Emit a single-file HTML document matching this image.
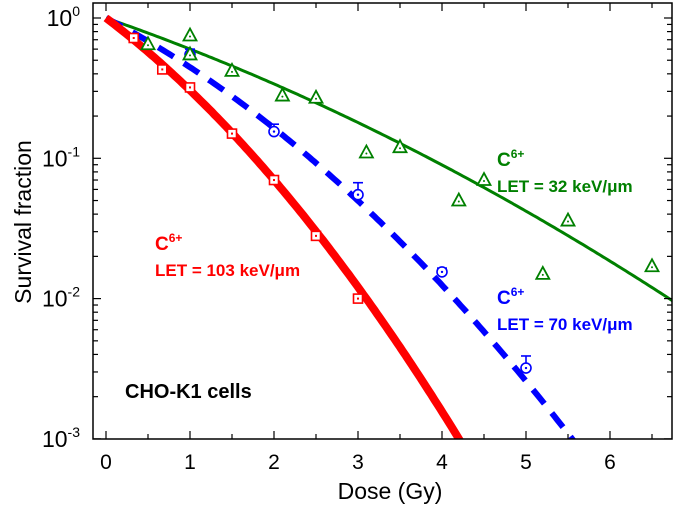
<!DOCTYPE html>
<html><head><meta charset="utf-8">
<style>
html,body{margin:0;padding:0;background:#fff;width:675px;height:511px;overflow:hidden;}
svg{display:block;font-family:"Liberation Sans",Arial,sans-serif;}
</style></head>
<body>
<svg id="chart" width="675" height="511" viewBox="0 0 675 511" xmlns="http://www.w3.org/2000/svg"></svg>
<script>
const xTicks=[0,1,2,3,4,5,6];
const yDecades=[0,-1,-2,-3];
const redDose=[0.33,0.67,1,1.5,2,2.5,3];
const redSurv=[0.72,0.43,0.32,0.15,0.07,0.028,0.01];
const blueDose=[1,2,3,4,5];
const blueSurv=[0.55,0.155,0.055,0.0155,0.0032];
const blueErr=[0.05,0.02,0.012,0.001,0.0007];
const greenDose=[0.5,1,1,1.5,2.1,2.5,3.1,3.5,4.2,4.5,5.2,5.5,6.5];
const greenSurv=[0.65,0.75,0.55,0.42,0.28,0.27,0.11,0.12,0.05,0.07,0.015,0.036,0.017];
const redFit=[1.043,0.143];
const blueFit=[0.712,0.096];
const greenFit=[0.479,0.031];

const X0=106,XS=84,Y0=18,YS=140.3,L=93,R=672,T=3,B=439;
const sx=d=>X0+d*XS;
const sy=v=>Y0-Math.log10(v)*YS;
const svg=document.getElementById('chart');
const NS='http://www.w3.org/2000/svg';
function mk(tag,at,parent){const e=document.createElementNS(NS,tag);for(const k in at)e.setAttribute(k,at[k]);(parent||svg).appendChild(e);return e;}

const defs=mk('defs',{});
const cp=mk('clipPath',{id:'pc'},defs);
mk('rect',{x:L,y:T,width:R-L,height:B-T},cp);

function curve(fit,color,width,dash,name){
  let d='';
  for(let i=0;i<=200;i++){const D=i*6.8/200;const s=Math.exp(-fit[0]*D-fit[1]*D*D);d+=(i?'L':'M')+sx(D).toFixed(1)+','+sy(s).toFixed(1);}
  const p=mk('path',{d:d,fill:'none',stroke:color,'stroke-width':width,'clip-path':'url(#pc)'});
  if(dash)p.setAttribute('stroke-dasharray',dash);
  
  
}
curve(greenFit,'#008000',3,null,'fit-let32');
curve(blueFit,'#0000ff',6,'18,12','fit-let70');
curve(redFit,'#ff0000',8,null,'fit-let103');

redDose.forEach((d,i)=>{
  const x=sx(d),y=sy(redSurv[i]);
  const g=mk('g',{});
  
  
  mk('rect',{x:x-4.5,y:y-4.5,width:9,height:9,fill:'#fff',stroke:'#ff0000','stroke-width':1.6},g);
  mk('rect',{x:x-1,y:y-1,width:2,height:2,fill:'#ff0000'},g);
});
blueDose.forEach((d,i)=>{
  const x=sx(d),y=sy(blueSurv[i]),yt=sy(blueSurv[i]+blueErr[i]);
  const g=mk('g',{});
  
  
  mk('line',{x1:x,y1:y,x2:x,y2:yt,stroke:'#0000ff','stroke-width':1.6},g);
  mk('line',{x1:x-5,y1:yt,x2:x+5,y2:yt,stroke:'#0000ff','stroke-width':1.6},g);
  mk('circle',{cx:x,cy:y,r:5,fill:'#fff',stroke:'#0000ff','stroke-width':1.6},g);
  mk('circle',{cx:x,cy:y,r:1.2,fill:'#0000ff'},g);
});
greenDose.forEach((d,i)=>{
  const x=sx(d),y=sy(greenSurv[i]);
  const g=mk('g',{});
  
  
  mk('polygon',{points:`${x},${y-7} ${x-6.5},${y+5} ${x+6.5},${y+5}`,fill:'#fff',stroke:'#008000','stroke-width':1.8},g);
  mk('circle',{cx:x,cy:y+1,r:1,fill:'#008000'},g);
});

const fr=mk('rect',{x:L,y:T,width:R-L,height:B-T,fill:'none',stroke:'#000','stroke-width':1.5});



for(let v=0;v<=6.5;v+=0.5){
  const x=sx(v),len=(v%1===0)?8:5;
  mk('line',{x1:x,y1:B,x2:x,y2:B-len,stroke:'#000','stroke-width':1.2});
  mk('line',{x1:x,y1:T,x2:x,y2:T+len,stroke:'#000','stroke-width':1.2});
}
xTicks.forEach(v=>{
  const t=mk('text',{x:sx(v),y:469,'font-size':21,'text-anchor':'middle',fill:'#000'});
  t.textContent=v;
  
  
});
yDecades.forEach(e=>{
  const y=sy(Math.pow(10,e));
  mk('line',{x1:L,y1:y,x2:L+8,y2:y,stroke:'#000','stroke-width':1.2});
  mk('line',{x1:R,y1:y,x2:R-8,y2:y,stroke:'#000','stroke-width':1.2});
  const t=mk('text',{x:80,y:y+8,'font-size':23,'text-anchor':'end',fill:'#000'});
  
  
  t.innerHTML='10<tspan dy="-10" font-size="14">'+e+'</tspan>';
  if(e>-3)for(let m=2;m<=9;m++){
    const ym=sy(m*Math.pow(10,e-1));
    mk('line',{x1:L,y1:ym,x2:L+5,y2:ym,stroke:'#000','stroke-width':1.2});
    mk('line',{x1:R,y1:ym,x2:R-5,y2:ym,stroke:'#000','stroke-width':1.2});
  }
});

let t=mk('text',{x:390,y:499,'font-size':23,'text-anchor':'middle'});t.textContent='Dose (Gy)';

t=mk('text',{x:0,y:0,'font-size':23,'text-anchor':'middle',transform:'translate(31,222) rotate(-90)'});t.textContent='Survival fraction';


function label(x,y,color,let_,name){
  const g=mk('g',{'font-size':17,'font-weight':'bold',fill:color});
  
  
  const a=mk('text',{x:x,y:y,'font-size':19},g);a.innerHTML='C<tspan dy="-8" font-size="12">6+</tspan>';
  const b=mk('text',{x:x,y:y+26},g);b.textContent='LET = '+let_+' keV/\u03bcm';
}
label(497,166,'#008000','32','label-let32');
label(497,304,'#0000ff','70','label-let70');
label(155,250,'#ff0000','103','label-let103');
t=mk('text',{x:125,y:398,'font-size':20,'font-weight':'bold'});t.textContent='CHO-K1 cells';

</script>
</body></html>
